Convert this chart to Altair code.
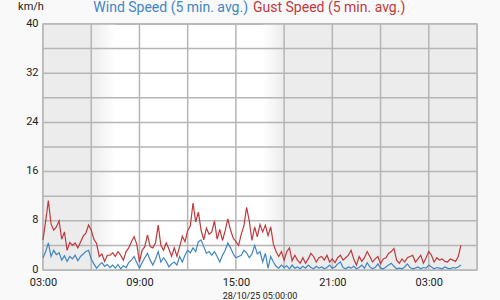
import altair as alt
import pandas as pd

# 10-minute samples from 27/10/25 03:00 to 28/10/25 05:00 (km/h)
wind = [
    2.0, 3.0, 4.4, 2.2, 3.2, 2.5, 2.8, 1.6, 2.3, 1.4,
    2.2, 1.8, 2.4, 1.5, 2.2, 2.6, 3.0, 3.2, 1.8, 1.0,
    0.3, 0.8, 1.2, 0.6, 0.9, 0.4, 0.8, 0.3, 0.9, 0.2,
    0.7, 0.4, 1.2, 1.6, 2.2, 1.2, 0.3, 1.2, 2.0, 2.7,
    1.6, 0.8, 1.8, 3.0, 1.3, 2.0, 1.4, 0.5, 1.0, 1.3,
    0.8, 2.2, 1.3, 2.4, 3.2, 2.8, 3.6, 3.0, 4.6, 4.9,
    3.8, 2.7, 3.0, 2.4, 3.0, 2.2, 1.3, 2.4, 3.2, 4.4,
    3.6, 2.6, 2.0, 2.2, 2.4, 3.2, 2.8, 2.0, 2.6, 4.0,
    2.6, 3.0, 1.3, 2.7, 0.3, 2.2, 1.3, 0.6, 0.3, 0.8,
    0.4, 0.7, 0.2, 0.8, 0.3, 0.5, 0.2, 0.6, 0.3, 0.8,
    0.4, 0.2, 0.6, 0.3, 0.5, 0.2, 0.4, 0.8, 0.3, 0.5,
    1.0, 1.3, 0.4, 0.2, 0.5, 0.3, 0.6, 0.2, 0.4, 0.8,
    0.3, 1.2, 0.5, 0.2, 0.4, 1.0, 0.3, 0.2, 0.5, 0.8,
    1.1, 0.6, 0.2, 0.3, 0.2, 0.5, 1.0, 0.4, 0.2, 0.3,
    0.5, 0.2, 0.4, 0.3, 0.8, 0.5, 0.2, 0.4, 0.3, 0.2,
    0.5, 0.3, 0.2, 0.4, 0.3, 0.5, 0.8,
]
gust = [
    4.9, 8.0, 11.3, 7.5, 6.5, 7.0, 8.0, 5.0, 6.2, 3.2,
    4.5, 4.0, 4.4, 3.6, 4.5, 5.5, 6.0, 7.3, 6.5, 5.0,
    4.3, 2.2, 2.6, 1.4, 2.4, 2.4, 2.8, 2.2, 3.0, 2.4,
    1.6, 3.0, 3.6, 4.6, 5.4, 4.2, 1.3, 3.2, 3.8, 5.7,
    3.8, 3.6, 4.4, 7.3, 4.0, 3.2, 4.4, 3.4, 2.2, 3.6,
    2.2, 3.8, 5.5, 4.6, 6.4, 7.2, 10.9, 7.8, 9.4, 6.5,
    4.9, 6.8, 5.8, 6.2, 8.0, 5.0, 6.6, 4.8, 6.4, 8.3,
    6.5, 5.2, 4.6, 4.0, 5.8, 7.2, 10.2, 8.0, 4.8, 7.0,
    5.4, 7.4, 6.2, 7.3, 5.6, 7.0, 4.2, 3.0, 2.2, 3.0,
    1.6, 3.0, 3.6, 1.5, 2.4, 1.6, 1.1, 2.0, 1.1, 1.8,
    2.7, 2.2, 1.3, 2.0, 2.2, 1.6, 2.4, 1.3, 1.8, 1.2,
    2.0, 2.4, 1.6, 2.0, 2.4, 3.2, 1.8, 0.8, 2.2, 1.4,
    2.0, 3.0, 2.2, 1.3, 1.8, 2.2, 1.0, 1.8, 2.0, 2.7,
    3.0, 3.5, 1.6, 1.1, 1.8, 1.3, 2.0, 2.2, 2.4, 1.3,
    1.8, 2.4, 1.1, 2.0, 3.0, 2.4, 1.3, 2.0, 1.6, 1.8,
    1.4, 1.3, 1.8, 1.6, 1.4, 2.2, 4.0,
]

y_grid = [0, 4, 8, 12, 16, 20, 24, 28, 32, 36, 40]
y_labels = [0, 8, 16, 24, 32, 40]
x_grid = ["2025-10-27T03:00:00", "2025-10-27T06:00:00", "2025-10-27T09:00:00",
          "2025-10-27T12:00:00", "2025-10-27T15:00:00", "2025-10-27T18:00:00",
          "2025-10-27T21:00:00", "2025-10-28T00:00:00", "2025-10-28T03:00:00",
          "2025-10-28T06:00:00"]
night_start = ["2025-10-27T03:00:00", "2025-10-27T18:00:00"]
night_end = ["2025-10-27T06:00:00", "2025-10-28T06:00:00"]
dawn = ["2025-10-27T06:00:00", "2025-10-27T07:30:00"]
dusk = ["2025-10-27T16:40:00", "2025-10-27T18:00:00"]

BLUE = "#3f86c6"
RED = "#c0393d"
GRID = "#b5b5b5"
NIGHT = "#ececec"
W, H = 434, 246

times = pd.date_range("2025-10-27 03:00", periods=len(wind), freq="10min")
df = pd.DataFrame({"time": times.strftime("%Y-%m-%dT%H:%M:%S"), "wind": wind, "gust": gust})

xscale = alt.Scale(domain=[alt.DateTime(year=2025, month=10, date=27, hours=3),
                           alt.DateTime(year=2025, month=10, date=28, hours=6)])
x_label_vals = [alt.DateTime(year=2025, month=10, date=27, hours=h) for h in (3, 9, 15, 21)] + \
               [alt.DateTime(year=2025, month=10, date=28, hours=3)]
xaxis = alt.Axis(values=x_label_vals, format="%H:%M", grid=False, ticks=False, domain=False,
                 title=None, labelPadding=6, labelFontSize=11, labelColor="#222",
                 labelFont="Roboto", labelFlush=False, labelOverlap=False)
yaxis = alt.Axis(values=y_labels, grid=False, ticks=False, domain=False, title=None,
                 labelPadding=5, labelFontSize=11, labelColor="#222", labelFont="Roboto",
                 labelFlush=False, labelOverlap=False, labelOffset=-1)
yscale = alt.Scale(domain=[0, 40], nice=False)

night = alt.Chart(pd.DataFrame({"s": night_start, "e": night_end})).mark_rect(
    fill=NIGHT).encode(x=alt.X("s:T", scale=xscale, axis=xaxis), x2="e:T")

grad_dawn = alt.Chart(pd.DataFrame({"s": [dawn[0]], "e": [dawn[1]]})).mark_rect(
    fill=alt.Gradient(gradient="linear",
                      stops=[alt.GradientStop(color=NIGHT, offset=0),
                             alt.GradientStop(color="#ffffff", offset=1)],
                      x1=0, x2=1, y1=0, y2=0)).encode(x="s:T", x2="e:T")
grad_dusk = alt.Chart(pd.DataFrame({"s": [dusk[0]], "e": [dusk[1]]})).mark_rect(
    fill=alt.Gradient(gradient="linear",
                      stops=[alt.GradientStop(color="#ffffff", offset=0),
                             alt.GradientStop(color=NIGHT, offset=1)],
                      x1=0, x2=1, y1=0, y2=0)).encode(x="s:T", x2="e:T")

vgrid = alt.Chart(pd.DataFrame({"t": x_grid})).mark_rule(
    color=GRID, strokeWidth=1.5).encode(x="t:T")
hgrid = alt.Chart(pd.DataFrame({"v": y_grid})).mark_rule(
    color=GRID, strokeWidth=1.5).encode(y=alt.Y("v:Q", scale=yscale, axis=yaxis))

base = alt.Chart(df)
wind_line = base.mark_line(color=BLUE, strokeWidth=1.2).encode(
    x="time:T", y=alt.Y("wind:Q", scale=yscale))
gust_line = base.mark_line(color=RED, strokeWidth=1.2).encode(
    x="time:T", y=alt.Y("gust:Q", scale=yscale))

one = pd.DataFrame({"k": [0]})
t1 = alt.Chart(one).mark_text(text="Wind Speed (5 min. avg.)", align="right", baseline="middle",
                              fontSize=14, font="Roboto", color=BLUE).encode(
    x=alt.value(205), y=alt.value(-16))
t2 = alt.Chart(one).mark_text(text="Gust Speed (5 min. avg.)", align="left", baseline="middle",
                              fontSize=14, font="Roboto", color=RED).encode(
    x=alt.value(210), y=alt.value(-16))
unit = alt.Chart(one).mark_text(text="km/h", align="center", baseline="middle",
                                fontSize=11, font="Roboto", color="#222").encode(
    x=alt.value(-12), y=alt.value(-17))
date = alt.Chart(one).mark_text(text="28/10/25 05:00:00", align="center", baseline="middle",
                                fontSize=9, font="Roboto", color="#222").encode(
    x=alt.value(217), y=alt.value(272))

chart = alt.layer(night, grad_dawn, grad_dusk, vgrid, hgrid, wind_line, gust_line,
                  t1, t2, unit, date).properties(
    width=W, height=H,
    autosize=alt.AutoSizeParams(type="none"),
    padding={"left": 43, "top": 24, "right": 23, "bottom": 30},
    background="#f9f9f9",
).configure_view(fill="white", stroke=GRID, strokeWidth=1.5)

chart.save("out.html", embed_options={"renderer": "svg", "actions": False})
